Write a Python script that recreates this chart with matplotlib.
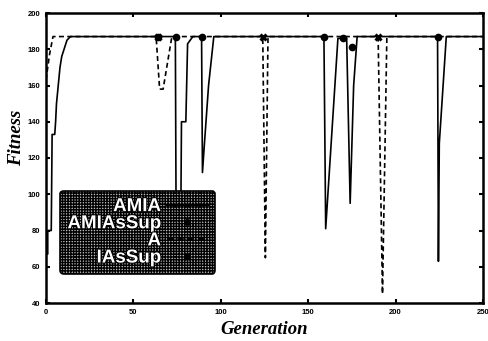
import matplotlib
matplotlib.use("Agg")
import matplotlib.pyplot as plt
from matplotlib.lines import Line2D
import matplotlib.patheffects as pe

# solid run (AMIA)
solid_gen = [0, 1, 1, 3, 3.5, 5, 5.5, 6, 7, 8, 9, 11, 12, 14,
             74, 74.5, 77, 77.5, 80, 81, 84,
             89, 89.5, 90.5, 93, 96,
             159, 160, 167, 172, 174, 176, 178,
             224, 224.5, 225, 229, 250]
solid_fit = [67, 67, 80, 80, 133, 133, 140, 150, 160, 170, 176, 182, 185, 187,
             187, 70, 70, 140, 140, 183, 187,
             187, 112, 126, 160, 187,
             187, 81, 186, 186, 95, 160, 187,
             187, 63, 128, 187, 187]

# dashed run (A)
dash_gen = [0, 2, 4, 63, 65, 67, 72, 124, 125.5, 127, 190, 192.5, 195, 250]
dash_fit = [163, 177, 187, 187, 158, 158, 187, 187, 65, 187, 187, 45, 187, 187]

# point markers (AMIAsSup, IAsSup)
dot_gen = [64, 74.5, 89, 159, 170, 175, 224]
dot_fit = [187, 187, 187, 187, 186, 181, 187]
cross_gen = [64, 124, 190]
cross_fit = [187, 187, 187]

labels = ["AMIA", "AMIAsSup", "A", "IAsSup"]
xticks = [0, 50, 100, 150, 200, 250]
yticks = [40, 60, 80, 100, 120, 140, 160, 180, 200]

fig = plt.figure(figsize=(4.88, 3.41), dpi=100)
ax = fig.add_axes([46 / 488, 1 - 303 / 341, 437 / 488, 290 / 341])

ax.plot(solid_gen, solid_fit, color="black", lw=1.2)
ax.plot(dash_gen, dash_fit, color="black", lw=1.2, dashes=(3, 2))
ax.plot(dot_gen, dot_fit, "o", color="black", ms=4.5, ls="none")
ax.plot(cross_gen, cross_fit, "x", color="black", ms=5, mew=2.2, ls="none")

ax.set_xlim(0, 250)
ax.set_ylim(40, 200)
ax.set_xticks(xticks)
ax.set_yticks(yticks)
ax.tick_params(direction="in", length=3, width=1.5, top=True, right=True,
               labelsize=5.5, pad=4)
for lab in ax.get_xticklabels() + ax.get_yticklabels():
    lab.set_fontweight("bold")
    lab.set_family("Liberation Sans")
for s in ax.spines.values():
    s.set_linewidth(1.8)

ax.set_xlabel("Generation", family="Liberation Serif", style="italic",
              weight="bold", fontsize=13.5)
ax.set_ylabel("Fitness", family="Liberation Serif", style="italic",
              weight="bold", fontsize=13.5)
ax.xaxis.set_label_coords(0.5, -0.062)
ax.yaxis.set_label_coords(-0.048, 0.57)

handles = [
    Line2D([], [], color="black", lw=1.5),
    Line2D([], [], color="black", marker="o", ls="none", ms=4),
    Line2D([], [], color="black", lw=1.5, dashes=(3, 2)),
    Line2D([], [], color="black", marker="x", ls="none", ms=5, mew=2),
]
leg = ax.legend(handles, labels, loc="lower left",
                bbox_to_anchor=(0.032, 0.10), markerfirst=False,
                fancybox=True, framealpha=1, handlelength=2.2,
                labelspacing=0.0, borderpad=0.4, handletextpad=0.3,
                borderaxespad=0,
                prop={"family": "Liberation Sans", "weight": "bold", "size": 13.5})
frame = leg.get_frame()
frame.set_facecolor("0.75")
frame.set_edgecolor("black")
frame.set_linewidth(1.2)
frame.set_hatch("++++++")
for t in leg.get_texts():
    t.set_color("white")
    t.set_path_effects([pe.withStroke(linewidth=1.5, foreground="black")])

fig.savefig("out.png", dpi=100)
